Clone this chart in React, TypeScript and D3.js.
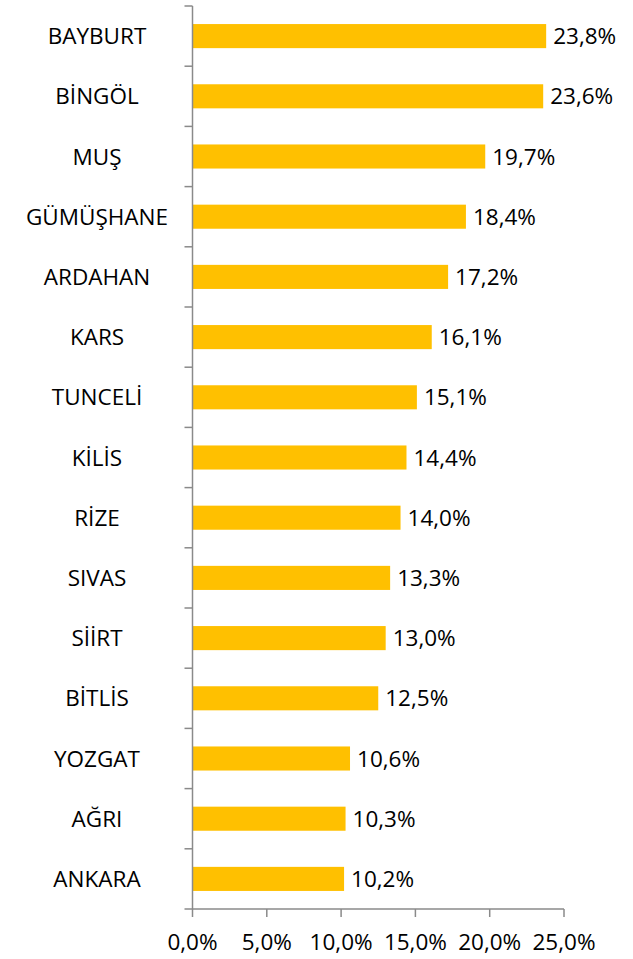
import React from 'react';
import * as d3 from 'd3';

const provinces = [
  'BAYBURT', 'BİNGÖL', 'MUŞ', 'GÜMÜŞHANE', 'ARDAHAN', 'KARS', 'TUNCELİ', 'KİLİS',
  'RİZE', 'SIVAS', 'SİİRT', 'BİTLİS', 'YOZGAT', 'AĞRI', 'ANKARA',
];
const shares = [23.8, 23.6, 19.7, 18.4, 17.2, 16.1, 15.1, 14.4, 14.0, 13.3, 13.0, 12.5, 10.6, 10.3, 10.2];
const xTicks = [0, 5, 10, 15, 20, 25];

const width = 633;
const height = 959;
const margin = { top: 6, right: 69, bottom: 50, left: 192.5 };
const font = '"Open Sans", sans-serif';
const fontSize = 22.5;

const fmt = (v: number) => v.toFixed(1).replace('.', ',') + '%';

export default function App() {
  const x = d3.scaleLinear().domain([0, 25]).range([margin.left, width - margin.right]);
  const y = d3.scaleBand<string>()
    .domain(provinces)
    .range([margin.top, height - margin.bottom])
    .paddingInner(0.6)
    .paddingOuter(0.3);

  const bottom = height - margin.bottom;
  const axisColor = '#8a8a8a';
  const boundaries = d3.range(provinces.length + 1).map(i => margin.top + i * y.step());

  return (
    <svg width={width} height={height} style={{ position: 'absolute', left: 0, top: 0 }}>
      <rect width={width} height={height} fill="#fff" />
      {provinces.map((p, i) => (
        <g key={p}>
          <rect x={x(0)} y={y(p)} width={x(shares[i]) - x(0)} height={y.bandwidth()} fill="#FFC000" />
          <text x={x(shares[i]) + 7} y={(y(p) as number) + y.bandwidth() / 2} dy="0.36em"
            fontFamily={font} fontSize={fontSize} fill="#000">{fmt(shares[i])}</text>
          <text x={97} y={(y(p) as number) + y.bandwidth() / 2} dy="0.36em" textAnchor="middle"
            fontFamily={font} fontSize={fontSize} fill="#000">{p}</text>
        </g>
      ))}
      <line x1={x(0)} x2={x(0)} y1={margin.top} y2={bottom} stroke={axisColor} strokeWidth={1.5} />
      {boundaries.map((b, i) => (
        <line key={i} x1={x(0) - 8} x2={x(0)} y1={b} y2={b} stroke={axisColor} strokeWidth={1.5} />
      ))}
      <line x1={x(0)} x2={x(25)} y1={bottom} y2={bottom} stroke={axisColor} strokeWidth={1.5} />
      {xTicks.map(t => (
        <g key={t}>
          <line x1={x(t)} x2={x(t)} y1={bottom} y2={bottom + 8} stroke={axisColor} strokeWidth={1.5} />
          <text x={x(t)} y={950} textAnchor="middle" fontFamily={font} fontSize={fontSize} fill="#000">{fmt(t)}</text>
        </g>
      ))}
    </svg>
  );
}
